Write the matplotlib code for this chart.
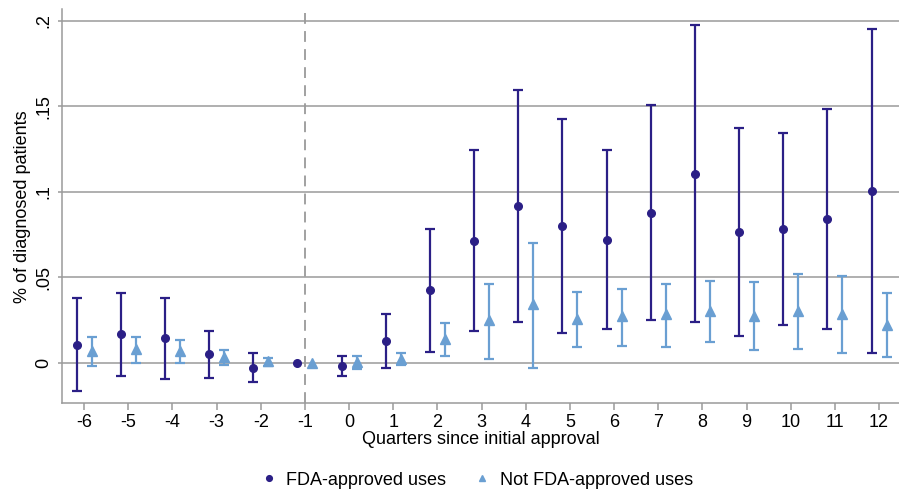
"""
Event-study plot: share of diagnosed patients by quarter relative to
initial approval, split by FDA-approved and not FDA-approved uses.
"""

import matplotlib
matplotlib.use("Agg")
import matplotlib.pyplot as plt
import numpy as np

plt.rcParams['font.family'] = ['Liberation Sans', 'DejaVu Sans']

quarters = [-6, -5, -4, -3, -2, -1, 0, 1, 2, 3, 4, 5, 6, 7, 8, 9, 10, 11, 12]

# FDA-approved uses: point estimate with 95% CI
approved = [0.0105, 0.0166, 0.0143, 0.0049, -0.0031, 0.0, -0.0018, 0.0129, 0.0423,
            0.0713, 0.0915, 0.0798, 0.0719, 0.0877, 0.1104, 0.0762, 0.0780, 0.0840, 0.1002]
approved_lo = [-0.0166, -0.0078, -0.0093, -0.0089, -0.0115, 0.0, -0.0076, -0.0029, 0.0064,
               0.0184, 0.0236, 0.0174, 0.0197, 0.0248, 0.0236, 0.0156, 0.0220, 0.0197, 0.0055]
approved_hi = [0.0378, 0.0408, 0.0378, 0.0187, 0.0058, 0.0, 0.0039, 0.0287, 0.0782,
               0.1242, 0.1597, 0.1427, 0.1242, 0.1507, 0.1973, 0.1373, 0.1341, 0.1485, 0.1951]

# Not FDA-approved uses
offlabel = [0.0070, 0.0082, 0.0068, 0.0035, 0.0008, 0.0, 0.0006, 0.0020, 0.0140,
            0.0250, 0.0341, 0.0257, 0.0271, 0.0283, 0.0302, 0.0275, 0.0302, 0.0285, 0.0220]
offlabel_lo = [-0.0018, 0.0000, -0.0004, -0.0013, -0.0020, 0.0, -0.0037, -0.0015, 0.0037,
               0.0023, -0.0031, 0.0090, 0.0096, 0.0094, 0.0119, 0.0072, 0.0078, 0.0055, 0.0033]
offlabel_hi = [0.0150, 0.0150, 0.0133, 0.0074, 0.0030, 0.0, 0.0039, 0.0055, 0.0234,
               0.0462, 0.0702, 0.0413, 0.0433, 0.0460, 0.0476, 0.0470, 0.0519, 0.0509, 0.0408]

yticks = [0, 0.05, 0.1, 0.15, 0.2]
ytick_labels = ['0', '.05', '.1', '.15', '.2']

navy = '#2b1f86'
lightblue = '#6a9fd2'
grey = '#9a9a9a'

q = np.array(quarters)
a = np.array(approved)
o = np.array(offlabel)
a_err = [a - np.array(approved_lo), np.array(approved_hi) - a]
o_err = [o - np.array(offlabel_lo), np.array(offlabel_hi) - o]

# base period (-1) has no interval
has_ci = q != -1

fig = plt.figure(figsize=(8.99, 4.97), dpi=100)
ax = fig.add_axes([0.069, 0.189, 0.931, 0.792])

ax.set_ylim(-0.0236, 0.2065)
ax.set_xlim(-6.5, 12.45)

for y in yticks:
    ax.axhline(y, color=grey, lw=1.1, zorder=0)
ax.axvline(-1, color=grey, lw=1.3, ls=(0, (6, 4)), zorder=0)

ax.errorbar(q[has_ci] - 0.17, a[has_ci], yerr=[e[has_ci] for e in a_err], fmt='none',
            ecolor=navy, elinewidth=1.6, capsize=3.6, capthick=1.6, zorder=2)
ax.errorbar(q[has_ci] + 0.17, o[has_ci], yerr=[e[has_ci] for e in o_err], fmt='none',
            ecolor=lightblue, elinewidth=1.6, capsize=3.6, capthick=1.6, zorder=2)
ax.plot(q - 0.17, a, 'o', color=navy, ms=5.5, zorder=3, label='FDA-approved uses')
ax.plot(q + 0.17, o, '^', color=lightblue, ms=6.5, zorder=3, label='Not FDA-approved uses')

ax.set_xticks(quarters)
ax.set_xticklabels([str(v) for v in quarters], fontsize=13)
ax.set_yticks(yticks)
ax.set_yticklabels(ytick_labels, fontsize=13, rotation=90, va='center')

for side in ['top', 'right']:
    ax.spines[side].set_visible(False)
for side in ['left', 'bottom']:
    ax.spines[side].set_color(grey)
    ax.spines[side].set_linewidth(1.1)
ax.tick_params(axis='x', length=5, color=grey, width=1.1, pad=3)
ax.tick_params(axis='y', length=3, color=grey, width=1.1, pad=4)

ax.set_xlabel('Quarters since initial approval', fontsize=13, labelpad=0)
ax.set_ylabel('% of diagnosed patients', fontsize=13, labelpad=3)

fig.legend(loc='center', bbox_to_anchor=(0.530, 0.034), ncol=2, frameon=False,
           fontsize=13, handlelength=1.0, handletextpad=0.45, columnspacing=1.5,
           markerscale=0.75)

plt.savefig('out.png', dpi=100)
